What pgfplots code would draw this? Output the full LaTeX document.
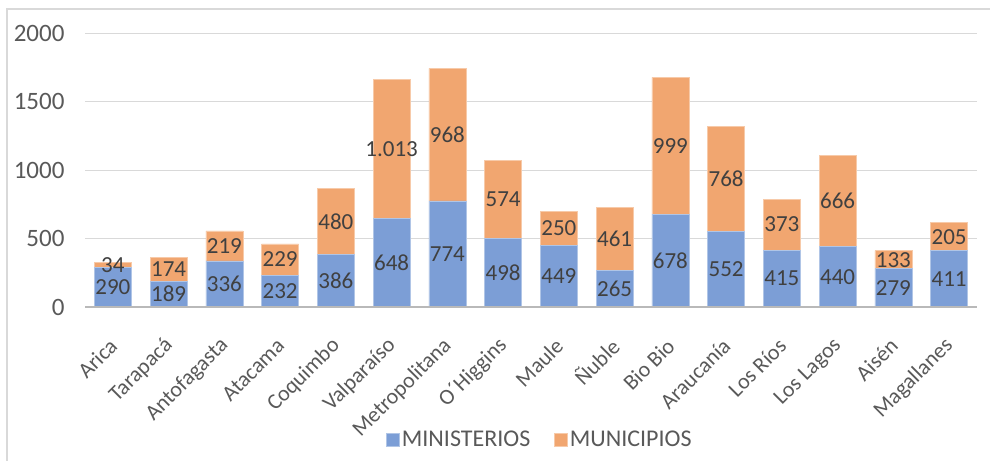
\documentclass[border=0pt]{standalone}
\usepackage{pgfplots}
\pgfplotsset{compat=1.18}
\usepackage{fontspec}
\setmainfont{Carlito}
\definecolor{bblue}{RGB}{124,158,214}
\definecolor{borange}{RGB}{241,166,112}
\definecolor{txt}{RGB}{89,89,89}
\definecolor{lbl}{RGB}{64,64,64}
\definecolor{gridc}{RGB}{217,217,217}
\begin{document}
\begin{tikzpicture}
\path[use as bounding box] (0,0) rectangle (990bp,-461bp);
\draw[gridc, line width=1.2bp] (7bp,-461bp) -- (7bp,-9bp) -- (990bp,-9bp);
\begin{axis}[
  at={(85bp,-307bp)}, anchor=south west,
  scale only axis, width=892bp, height=274bp,
  ybar stacked, bar width=37bp,
  xmin=-0.5, xmax=15.5, ymin=0, ymax=2000,
  ytick={0,500,1000,1500,2000},
  xtick={0,...,15},
  xticklabels={Arica,Tarapacá,Antofagasta,Atacama,Coquimbo,Valparaíso,Metropolitana,O´Higgins,Maule,Ñuble,Bio Bio,Araucanía,Los Ríos,Los Lagos,Aisén,Magallanes},
  axis line style={draw=none},
  major tick length=0pt,
  ymajorgrids, grid style={draw=gridc, line width=1bp},
  /pgf/number format/assume math mode=true,
  /pgf/number format/1000 sep={},
  yticklabel style={font=\fontsize{25bp}{29bp}\selectfont, text=txt, anchor=east, xshift=-17bp},
  xticklabel style={font=\fontsize{22bp}{26bp}\selectfont, text=txt, xshift=3bp, yshift=-33bp, rotate=45, anchor=east},
  legend style={at={(0.51,-0.485)}, anchor=center, draw=none, legend columns=2,
    font=\fontsize{24bp}{28bp}\selectfont, text=txt,
    /tikz/every even column/.append style={column sep=22bp}},
  legend image code/.code={\fill[#1] (0bp,-6bp) rectangle (13bp,7bp);},
]
\addplot[fill=bblue, draw=bblue!60!white, line width=0.6bp] coordinates {
(0,290) (1,189) (2,336) (3,232) (4,386) (5,648) (6,774) (7,498)
(8,449) (9,265) (10,678) (11,552) (12,415) (13,440) (14,279) (15,411)};
\addlegendentry{MINISTERIOS}
\addplot[fill=borange, draw=borange!60!white, line width=0.6bp] coordinates {
(0,34) (1,174) (2,219) (3,229) (4,480) (5,1013) (6,968) (7,574)
(8,250) (9,461) (10,999) (11,768) (12,373) (13,666) (14,133) (15,205)};
\addlegendentry{MUNICIPIOS}
\end{axis}
\begin{axis}[
  at={(85bp,-307bp)}, anchor=south west,
  scale only axis, width=892bp, height=274bp,
  xmin=-0.5, xmax=15.5, ymin=0, ymax=2000,
  hide axis, clip=false,
  point meta=explicit symbolic,
  nodes near coords={\pgfplotspointmeta},
  every node near coord/.style={anchor=center, font=\fontsize{23bp}{27bp}\selectfont, text=lbl},
]
\addplot[draw=none, mark=none, only marks] coordinates {
(0,145)[290] (1,94.5)[189] (2,168)[336] (3,116)[232] (4,193)[386] (5,324)[648]
(6,387)[774] (7,249)[498] (8,224.5)[449] (9,132.5)[265] (10,339)[678] (11,276)[552]
(12,207.5)[415] (13,220)[440] (14,139.5)[279] (15,205.5)[411]};
\addplot[draw=none, mark=none, only marks] coordinates {
(0,307)[34] (1,276)[174] (2,445.5)[219] (3,346.5)[229] (4,626)[480] (5,1154.5)[1.013]
(6,1258)[968] (7,785)[574] (8,574)[250] (9,495.5)[461] (10,1177.5)[999] (11,936)[768]
(12,601.5)[373] (13,773)[666] (14,345.5)[133] (15,513.5)[205]};
\draw[color=gray!55, line width=1.3bp] (axis cs:-0.5,0) -- (axis cs:15.5,0);
\end{axis}
\end{tikzpicture}
\end{document}
